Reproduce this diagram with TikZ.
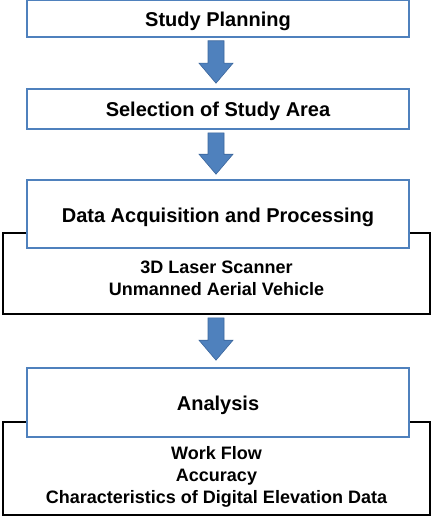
\documentclass[tikz,border=0pt]{standalone}
\usepackage{fontspec}
\setmainfont{Liberation Sans}
\usetikzlibrary{calc}
\definecolor{boxblue}{HTML}{4F81BD}
\definecolor{arrowblue}{HTML}{4F81BD}
\definecolor{arrowedge}{HTML}{3A659B}
\tikzset{
  titlebox/.style={draw=boxblue, line width=1.6pt, fill=white, minimum width=382pt, inner sep=0pt, text height=16pt, text depth=0pt, font=\bfseries\fontsize{20}{24}\selectfont, text=black},
  outerbox/.style={draw=black, line width=1.6pt, fill=white, minimum width=427pt, inner sep=0pt},
  subtext/.style={font=\bfseries\fontsize{18}{22}\selectfont, align=center, inner sep=0pt},
  blockarrow/.style={fill=arrowblue, draw=arrowedge, line width=0.6pt}
}
\begin{document}
\begin{tikzpicture}[x=1pt,y=-1pt]
\useasboundingbox (0,0) rectangle (436,516);
% box 1
\node[titlebox, minimum height=37pt] (b1) at (218,18.5) {Study Planning};
% box 2
\node[titlebox, minimum height=40pt] (b2) at (218,109) {Selection of Study Area};
% box 3
\node[outerbox, minimum height=81pt] (o3) at (216.5,273.5) {};
\node[titlebox, minimum height=68pt] (b3) at (218,214) {Data Acquisition and Processing};
\node[subtext] (t3) at (216.5,278) {3D Laser Scanner\\Unmanned Aerial Vehicle};
% box 4
\node[outerbox, minimum height=93pt] (o4) at (216.5,468.5) {};
\node[titlebox, minimum height=69pt] (b4) at (218,402.5) {Analysis};
\node[subtext] (t4) at (216.5,476.5) {Work Flow\\Accuracy\\Characteristics of Digital Elevation Data};
% arrows
\foreach \a/\b/\dx/\g in {b1/b2/-2/5, b2/b3/-2/5, o3/b4/-0.5/7}{
  \draw[blockarrow] let \p1=($(\a.south)+(\dx,3)$), \p2=($(\b.north)+(-2,-\g)$) in
    (\x1-8pt,\y1) -- (\x1-8pt,\y2+20pt) -- (\x1-17pt,\y2+20pt) -- (\x1,\y2)
    -- (\x1+17pt,\y2+20pt) -- (\x1+8pt,\y2+20pt) -- (\x1+8pt,\y1) -- cycle;
}
\end{tikzpicture}
\end{document}
